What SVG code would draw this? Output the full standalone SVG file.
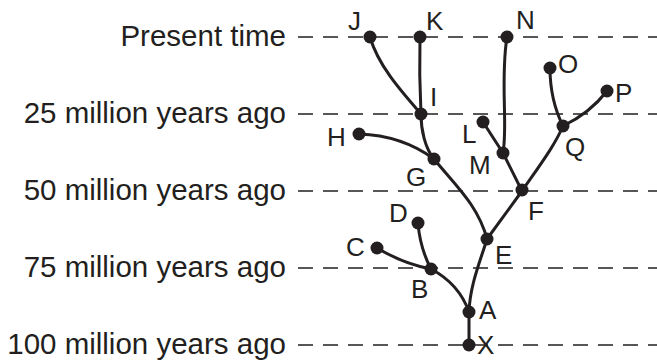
<svg xmlns="http://www.w3.org/2000/svg" width="657" height="360" viewBox="0 0 657 360">
<style>
.axis{font-family:"Liberation Sans",Arial,sans-serif;font-size:29.5px;fill:#231f20;text-anchor:end}
.lbl{font-family:"Liberation Sans",Arial,sans-serif;font-size:26px;fill:#231f20}
.grid{stroke:#231f20;stroke-width:1.6;stroke-dasharray:15 10;fill:none}
.br{stroke:#231f20;stroke-width:3;fill:none;stroke-linecap:round}
.dot{fill:#231f20}
</style>
<rect width="657" height="360" fill="#fff"/>
<g id="timescale">
<text class="axis" x="286" y="46">Present time</text>
<text class="axis" x="286" y="122.5">25 million years ago</text>
<text class="axis" x="286" y="199.5">50 million years ago</text>
<text class="axis" x="286" y="276.5">75 million years ago</text>
<text class="axis" x="286" y="353.5">100 million years ago</text>
<path class="grid" d="M298,37H657M298,114H657M298,191H657M298,268H657M298,345H657"/>
</g>
<g id="connectors">
<path class="br" d="M469,345V312"/>
<path class="br" d="M469,312C462,292 448,278 431,269"/>
<path class="br" d="M469,312C470,285 480,262 487,239"/>
<path class="br" d="M431,269Q404,264 377,248"/>
<path class="br" d="M431,269Q420,248 418,223"/>
<path class="br" d="M487,239L522,191"/>
<path class="br" d="M487,239C478,205 455,185 434,159"/>
<path class="br" d="M359,134C390,135 415,145 434,159"/>
<path class="br" d="M434,159C425,148 421,130 421,114"/>
<path class="br" d="M421,114C400,90 378,65 370,37"/>
<path class="br" d="M421,114Q419,75 420,37"/>
<path class="br" d="M522,191L503,153"/>
<path class="br" d="M503,153L483,122"/>
<path class="br" d="M503,153C508,125 500,80 507,37"/>
<path class="br" d="M522,191C540,165 555,145 563,126"/>
<path class="br" d="M563,126Q550,100 550,68"/>
<path class="br" d="M563,126Q590,113 607,91"/>
</g>
<g id="X"><circle class="dot" cx="469" cy="345" r="6.5"/><text class="lbl" x="477" y="354">X</text></g>
<g id="A"><circle class="dot" cx="469" cy="312" r="6.5"/><text class="lbl" x="479" y="319">A</text></g>
<g id="B"><circle class="dot" cx="431" cy="269" r="6.5"/><text class="lbl" x="411" y="298">B</text></g>
<g id="C"><circle class="dot" cx="377" cy="248" r="6.5"/><text class="lbl" x="346" y="256">C</text></g>
<g id="D"><circle class="dot" cx="418" cy="223" r="6.5"/><text class="lbl" x="389" y="222">D</text></g>
<g id="E"><circle class="dot" cx="487" cy="239" r="6.5"/><text class="lbl" x="495" y="264">E</text></g>
<g id="F"><circle class="dot" cx="522" cy="190" r="6.5"/><text class="lbl" x="528" y="220">F</text></g>
<g id="G"><circle class="dot" cx="434" cy="159" r="6.5"/><text class="lbl" x="406" y="186">G</text></g>
<g id="H"><circle class="dot" cx="359" cy="134" r="6.5"/><text class="lbl" x="327" y="146">H</text></g>
<g id="I"><circle class="dot" cx="421" cy="114" r="6.5"/><text class="lbl" x="430" y="106">I</text></g>
<g id="J"><circle class="dot" cx="370" cy="37" r="6.5"/><text class="lbl" x="348" y="30">J</text></g>
<g id="K"><circle class="dot" cx="420" cy="37" r="6.5"/><text class="lbl" x="426" y="30">K</text></g>
<g id="L"><circle class="dot" cx="483" cy="122" r="6.5"/><text class="lbl" x="462" y="143">L</text></g>
<g id="M"><circle class="dot" cx="503" cy="153" r="6.5"/><text class="lbl" x="469" y="174">M</text></g>
<g id="N"><circle class="dot" cx="507" cy="37" r="6.5"/><text class="lbl" x="516" y="29">N</text></g>
<g id="O"><circle class="dot" cx="550" cy="68" r="6.5"/><text class="lbl" x="558" y="73">O</text></g>
<g id="P"><circle class="dot" cx="607" cy="91" r="6.5"/><text class="lbl" x="615" y="102">P</text></g>
<g id="Q"><circle class="dot" cx="563" cy="126" r="6.5"/><text class="lbl" x="565" y="156">Q</text></g>
</svg>
